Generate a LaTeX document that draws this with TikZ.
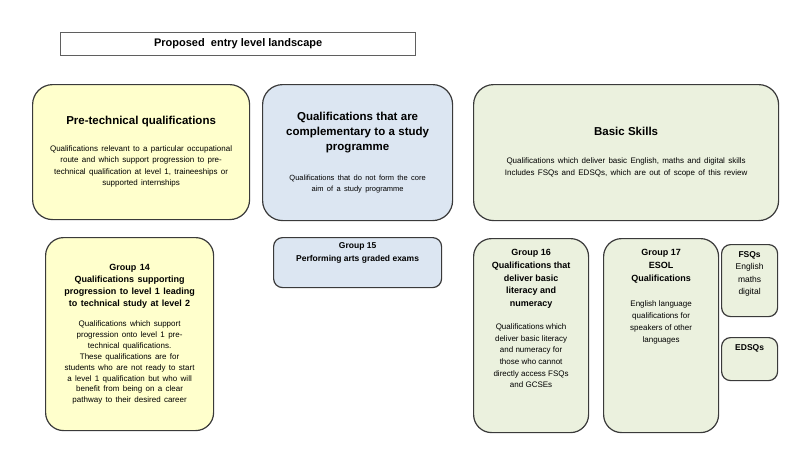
\documentclass[tikz,border=0pt]{standalone}
\usepackage{fontspec}
\setmainfont{Liberation Sans}
\usetikzlibrary{positioning}

\definecolor{techyellow}{HTML}{FFFFCC}
\definecolor{compblue}{HTML}{DCE6F2}
\definecolor{skillgreen}{HTML}{EBF1DE}
\definecolor{edgegrey}{HTML}{3A3A3A}
\definecolor{titlegrey}{HTML}{5F5F5F}

\newcommand\bighead{\fontsize{11.5}{15}\selectfont\bfseries}
\newcommand\smallhead{\fontsize{9}{12.2}\selectfont\bfseries}
\newcommand\bodytext{\fontsize{8}{11.5}\selectfont\mdseries}

\begin{document}
\begin{tikzpicture}[x=1pt,y=-1pt,
  box/.style={draw=edgegrey,line width=1.2pt,anchor=north west,inner sep=0pt,align=center},
  big box/.style={box,rounded corners=20pt},
  group box/.style={box,rounded corners=18pt},
  small box/.style={box,rounded corners=9pt}]

  \useasboundingbox (0,0) rectangle (800,455);

  \node[draw=titlegrey,line width=1.3pt,anchor=north west,minimum width=355pt,minimum height=23pt,
    font=\fontsize{11}{13}\selectfont\bfseries] (title) at (60,32) {Proposed\ \ entry level landscape};

  % top row
  \node[big box,fill=techyellow,minimum width=217pt,minimum height=135pt,text width=210pt] (pretech) at (32,84)
    {{\bighead Pre-technical qualifications\par}\vspace{15pt}
     {\bodytext Qualifications relevant to a particular occupational\\ route and which support progression to pre-\\
      technical qualification at level 1, traineeships or\\ supported internships\par}};
  \node[big box,fill=compblue,minimum width=190pt,minimum height=136pt,text width=184pt] (comp) at (262,84)
    {{\bighead Qualifications that are\\ complementary to a study\\ programme\par}\vspace{20pt}
     {\fontsize{7.5}{10.5}\selectfont Qualifications that do not form the core\\ aim of a study programme\par}};
  \node[big box,fill=skillgreen,minimum width=305pt,minimum height=136pt,text width=295pt] (basic) at (473,84)
    {{\bighead Basic Skills\par}\vspace{15pt}
     {\fontsize{8}{12.5}\selectfont Qualifications which deliver basic English, maths and digital skills\\
      Includes FSQs and EDSQs, which are out of scope of this review\par}};

  % groups
  \node[group box,fill=techyellow,minimum width=168pt,minimum height=193pt,text width=162pt] (g14) at (45,237)
    {{\smallhead Group 14\\ Qualifications supporting\\ progression to level 1 leading\\ to technical study at level 2\par}\vspace{9pt}
     {\fontsize{8}{10.9}\selectfont Qualifications which support\\ progression onto level 1 pre-\\ technical qualifications.\\
      These qualifications are for\\ students who are not ready to start\\ a level 1 qualification but who will\\
      benefit from being on a clear\\ pathway to their desired career\par}\vspace{4pt}};
  \node[small box,fill=compblue,minimum width=168pt,minimum height=50pt] (g15) at (273,237)
    {\parbox[c][50pt][t]{166pt}{\centering\vspace*{5pt}
     {\fontsize{8.5}{12.5}\selectfont\bfseries Group 15\\ Performing arts graded exams\par}}};
  \node[group box,fill=skillgreen,minimum width=115pt,minimum height=194pt] (g16) at (473,238)
    {\parbox[c][194pt][t]{113pt}{\centering\vspace*{11pt}
     {\fontsize{9}{12.7}\selectfont\bfseries Group 16\\ Qualifications that\\ deliver basic\\ literacy and\\ numeracy\par}\vspace{11pt}
     {\fontsize{8}{11.7}\selectfont Qualifications which\\ deliver basic literacy\\ and numeracy for\\ those who cannot\\
      directly access FSQs\\ and GCSEs\par}}};
  \node[group box,fill=skillgreen,minimum width=115pt,minimum height=194pt] (g17) at (603,238)
    {\parbox[c][194pt][t]{113pt}{\centering\vspace*{11pt}
     {\fontsize{9}{12.7}\selectfont\bfseries Group 17\\ ESOL\\ Qualifications\par}\vspace{14pt}
     {\fontsize{8}{11.7}\selectfont English language\\ qualifications for\\ speakers of other\\ languages\par}}};

  % out of scope
  \node[small box,fill=skillgreen,minimum width=56pt,minimum height=72pt] (fsq) at (721,244)
    {\parbox[c][72pt][t]{54pt}{\centering\vspace*{7pt}
     \fontsize{8.5}{12.3}\selectfont{\bfseries FSQs}\\ English\\ maths\\ digital\par}};
  \node[small box,fill=skillgreen,minimum width=56pt,minimum height=43pt] (edsq) at (721,337)
    {\parbox[c][43pt][t]{54pt}{\centering\vspace*{7pt}\fontsize{8.5}{12}\selectfont\bfseries EDSQs\par}};
\end{tikzpicture}
\end{document}
